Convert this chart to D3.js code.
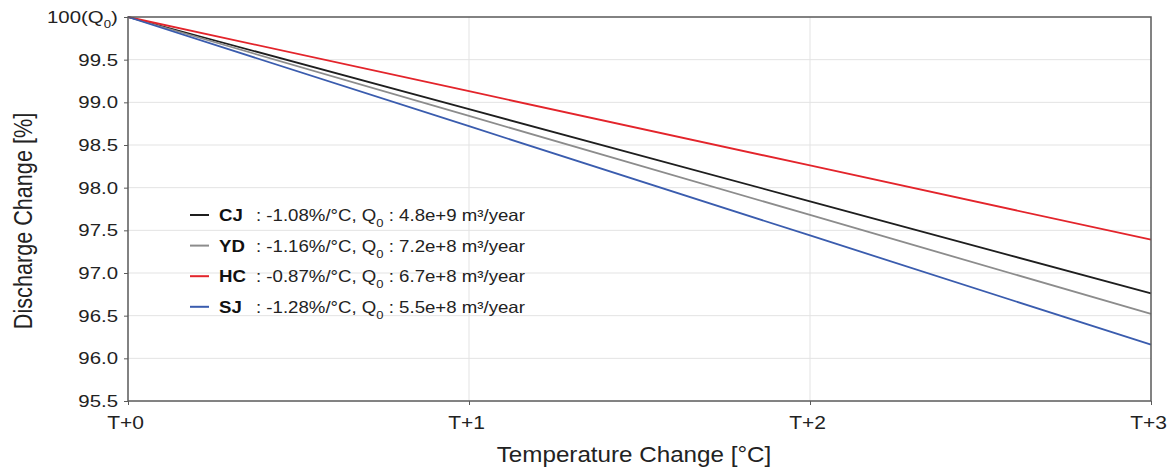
<!DOCTYPE html>
<html><head><meta charset="utf-8">
<script src="https://cdn.jsdelivr.net/npm/d3@7"></script>
<style>body{margin:0;background:#fff;} svg{display:block;font-family:"Liberation Sans",Arial,Helvetica,sans-serif;}</style>
</head><body>
<svg id="c" width="1170" height="468"></svg>
<script>
const xTicks = [0, 1, 2, 3];
const xTickLabels = ["T+0", "T+1", "T+2", "T+3"];
const yTicks = [95.5, 96.0, 96.5, 97.0, 97.5, 98.0, 98.5, 99.0, 99.5, 100];
const seriesNames = ["CJ", "YD", "HC", "SJ"];
const seriesRates = ["-1.08", "-1.16", "-0.87", "-1.28"];
const seriesQ0 = ["4.8e+9", "7.2e+8", "6.7e+8", "5.5e+8"];
const seriesColors = ["#1e1e1e", "#8c8c8c", "#e3242b", "#3a5cae"];
const cjValues = [100, 98.92, 97.84, 96.76];
const ydValues = [100, 98.84, 97.68, 96.52];
const hcValues = [100, 99.13, 98.26, 97.39];
const sjValues = [100, 98.72, 97.44, 96.16];
const seriesValues = [cjValues, ydValues, hcValues, sjValues];

const svg = d3.select("#c");
const L = 128, R = 1151, T = 17, B = 401;
const x = d3.scaleLinear().domain([0, 3]).range([L, R]);
const y = d3.scaleLinear().domain([95.5, 100]).range([B, T]);

// grid
svg.append("g").selectAll("line").data(yTicks.slice(1, -1)).join("line")
  .attr("x1", L).attr("x2", R).attr("y1", d => y(d)).attr("y2", d => y(d))
  .attr("stroke", "#e3e3e3").attr("stroke-width", 1);
svg.append("g").selectAll("line").data(xTicks.slice(1, -1)).join("line")
  .attr("y1", T).attr("y2", B).attr("x1", d => x(d)).attr("x2", d => x(d))
  .attr("stroke", "#e3e3e3").attr("stroke-width", 1);

// lines
const line = d3.line().x((d, i) => x(xTicks[i])).y(d => y(d));
seriesValues.forEach((vals, i) => {
  svg.append("path").datum(vals).attr("d", line).attr("fill", "none")
    .attr("stroke", seriesColors[i]).attr("stroke-width", 1.8);
});

// frame
svg.append("rect").attr("x", L).attr("y", T).attr("width", R - L).attr("height", B - T)
  .attr("fill", "none").attr("stroke", "#5a5a5a").attr("stroke-width", 1.5);

// axes
const sxY = 1.2, sxX = 1.2;
const yAxis = d3.axisLeft(y).tickValues(yTicks).tickSize(4).tickPadding(6)
  .tickFormat(d => d === 100 ? "" : d3.format(".1f")(d));
const gy = svg.append("g").attr("transform", `translate(${L},0)`).call(yAxis);
gy.select(".domain").remove();
gy.selectAll(".tick line").attr("stroke", "#5a5a5a");
gy.selectAll(".tick text").attr("font-size", 17).attr("fill", "#222")
  .attr("x", -10 / sxY).attr("transform", `scale(${sxY},1)`);

// 100(Q0) label
const g100 = svg.append("g").attr("transform", `translate(47,${y(100) + 6})`);
const t100 = g100.append("text").attr("font-size", 17).attr("fill", "#222")
  .attr("transform", `scale(${sxY},1)`);
t100.append("tspan").text("100(Q");
t100.append("tspan").attr("font-size", 11).attr("dy", 5).text("0");
t100.append("tspan").attr("dy", -5).text(")");

const xAxis = d3.axisBottom(x).tickValues(xTicks).tickSize(4).tickPadding(12)
  .tickFormat((d, i) => xTickLabels[i]);
const gx = svg.append("g").attr("transform", `translate(0,${B})`).call(xAxis);
gx.select(".domain").remove();
gx.selectAll(".tick line").attr("stroke", "#5a5a5a");
gx.selectAll(".tick text").attr("font-size", 17.5).attr("fill", "#222")
  .attr("x", -3 / sxX).attr("transform", `scale(${sxX},1)`);

// axis titles
svg.append("g").attr("transform", "translate(634,462)")
  .append("text").attr("text-anchor", "middle").attr("transform", "scale(1.1,1)")
  .attr("font-size", 22).attr("fill", "#222").text("Temperature Change [°C]");
svg.append("g").attr("transform", "translate(32,221) rotate(-90)")
  .append("text").attr("text-anchor", "middle").attr("transform", "scale(1.03,1.2)")
  .attr("font-size", 21).attr("fill", "#222").text("Discharge Change [%]");

// legend
const sxL = 1.13;
const lg = svg.append("g");
seriesNames.forEach((n, i) => {
  const cy = 215 + i * 30.6;
  lg.append("line").attr("x1", 190).attr("x2", 209).attr("y1", cy).attr("y2", cy)
    .attr("stroke", seriesColors[i]).attr("stroke-width", 2);
  lg.append("g").attr("transform", `translate(219,${cy + 6})`)
    .append("text").attr("font-size", 16.5).attr("transform", `scale(${sxL},1)`)
    .attr("font-weight", "bold").attr("fill", "#111").text(n);
  const t = lg.append("g").attr("transform", `translate(256,${cy + 6})`)
    .append("text").attr("font-size", 16.5).attr("transform", `scale(${sxL},1)`).attr("fill", "#222");
  t.append("tspan").text(`: ${seriesRates[i]}%/°C, Q`);
  t.append("tspan").attr("font-size", 11.5).attr("dy", 6).text("0");
  t.append("tspan").attr("dy", -6).text(` : ${seriesQ0[i]} m³/year`);
});
</script>
</body></html>
